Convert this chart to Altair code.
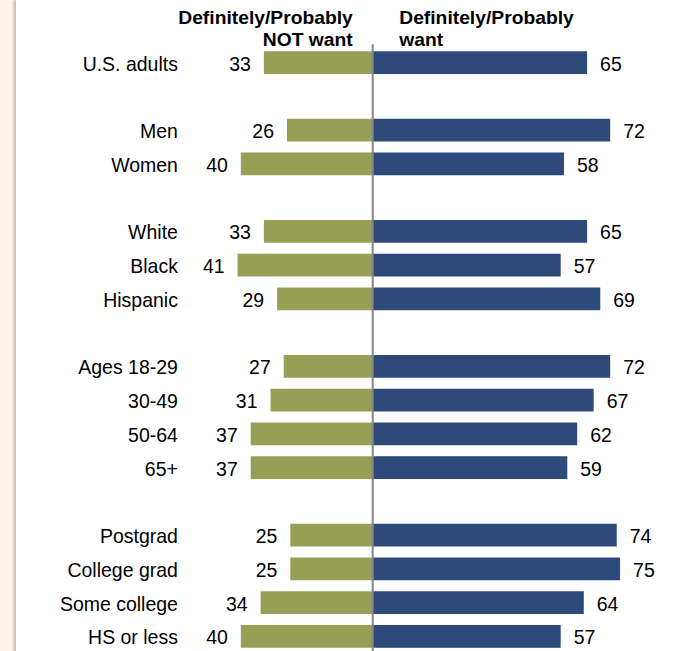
import altair as alt
import pandas as pd

# ---- data ----
categories = ["U.S. adults", "Men", "Women", "White", "Black", "Hispanic",
              "Ages 18-29", "30-49", "50-64", "65+",
              "Postgrad", "College grad", "Some college", "HS or less"]
not_want = [33, 26, 40, 33, 41, 29, 27, 31, 37, 37, 25, 25, 34, 40]
want = [65, 72, 58, 65, 57, 69, 72, 67, 62, 59, 74, 75, 64, 57]
# row order including blank spacer rows between groups
row_order = ["U.S. adults", " ",
             "Men", "Women", "  ",
             "White", "Black", "Hispanic", "   ",
             "Ages 18-29", "30-49", "50-64", "65+", "    ",
             "Postgrad", "College grad", "Some college", "HS or less"]
header_left = ["Definitely/Probably", "NOT want"]
header_right = ["Definitely/Probably", "want"]

GREEN = "#979F57"
BLUE = "#2E4A7B"
FONT = "Liberation Sans"

df = pd.DataFrame({
    "cat": categories,
    "not_want": not_want,
    "want": want,
})
df["neg"] = -df["not_want"]
df["zero"] = 0

W, H = 495, 608
PAD_L, PAD_T = 191.5, 45.5

yenc = alt.Y("cat:N", sort=row_order,
             scale=alt.Scale(domain=row_order, paddingInner=0.33, paddingOuter=0.165),
             axis=alt.Axis(title=None, ticks=False, domain=False, labelFont=FONT,
                           labelFontSize=19.5, labelColor="#000000", labelPadding=14,
                           labelAlign="right", labelOffset=2))
xscale = alt.Scale(domain=[-55, 95], nice=False, zero=False)

base = alt.Chart(df)

left_bars = base.mark_bar(color=GREEN).encode(
    x=alt.X("neg:Q", scale=xscale, axis=None),
    x2="zero:Q",
    y=yenc,
)
right_bars = base.mark_bar(color=BLUE).encode(
    x=alt.X("zero:Q", scale=xscale, axis=None),
    x2="want:Q",
    y=yenc,
)
left_text = base.mark_text(align="right", baseline="middle", dx=-13, dy=2, font=FONT,
                           fontSize=19.5, color="#000000").encode(
    x=alt.X("neg:Q", scale=xscale, axis=None),
    y=yenc,
    text="not_want:Q",
)
right_text = base.mark_text(align="left", baseline="middle", dx=13, dy=2, font=FONT,
                            fontSize=19.5, color="#000000").encode(
    x=alt.X("want:Q", scale=xscale, axis=None),
    y=yenc,
    text="want:Q",
)

one = pd.DataFrame({"a": [0]})
center_line = alt.Chart(one).mark_rule(color="#858585", strokeWidth=2).encode(
    x=alt.X("a:Q", scale=xscale, axis=None),
    y=alt.value(-1.5),
    y2=alt.value(H + 10),
)

headers = []
for i, (lt, rt) in enumerate(zip(header_left, header_right)):
    yy = -22 + i * 22
    headers.append(alt.Chart(one).mark_text(align="right", baseline="alphabetic",
                                            font=FONT, fontSize=19.3, fontWeight="bold",
                                            color="#000000", text=lt).encode(
        x=alt.value(161.5), y=alt.value(yy)))
    headers.append(alt.Chart(one).mark_text(align="left", baseline="alphabetic",
                                            font=FONT, fontSize=19.3, fontWeight="bold",
                                            color="#000000", text=rt).encode(
        x=alt.value(208), y=alt.value(yy)))

# beige strip at the left edge of the page
strips = [alt.Chart(one).mark_rect(color="#FBF3E8").encode(
    x=alt.value(-PAD_L), x2=alt.value(-PAD_L + 12),
    y=alt.value(-PAD_T), y2=alt.value(H + 10))]
for k, c in enumerate(["#EFE7DD", "#E2DAD1", "#D4CCC4", "#C9C2BB"]):
    strips.append(alt.Chart(one).mark_rect(color=c).encode(
        x=alt.value(-PAD_L + 12 + k), x2=alt.value(-PAD_L + 13 + k),
        y=alt.value(-PAD_T), y2=alt.value(H + 10)))

chart = alt.layer(*strips, left_bars, right_bars, left_text, right_text,
                  center_line, *headers).properties(
    width=W, height=H,
    autosize=alt.AutoSizeParams(type="none"),
    padding={"left": PAD_L, "top": PAD_T, "right": 14, "bottom": 0},
    background="#FFFFFF",
).configure_view(stroke=None)

chart.save("out.html", embed_options={"renderer": "svg", "actions": False})
